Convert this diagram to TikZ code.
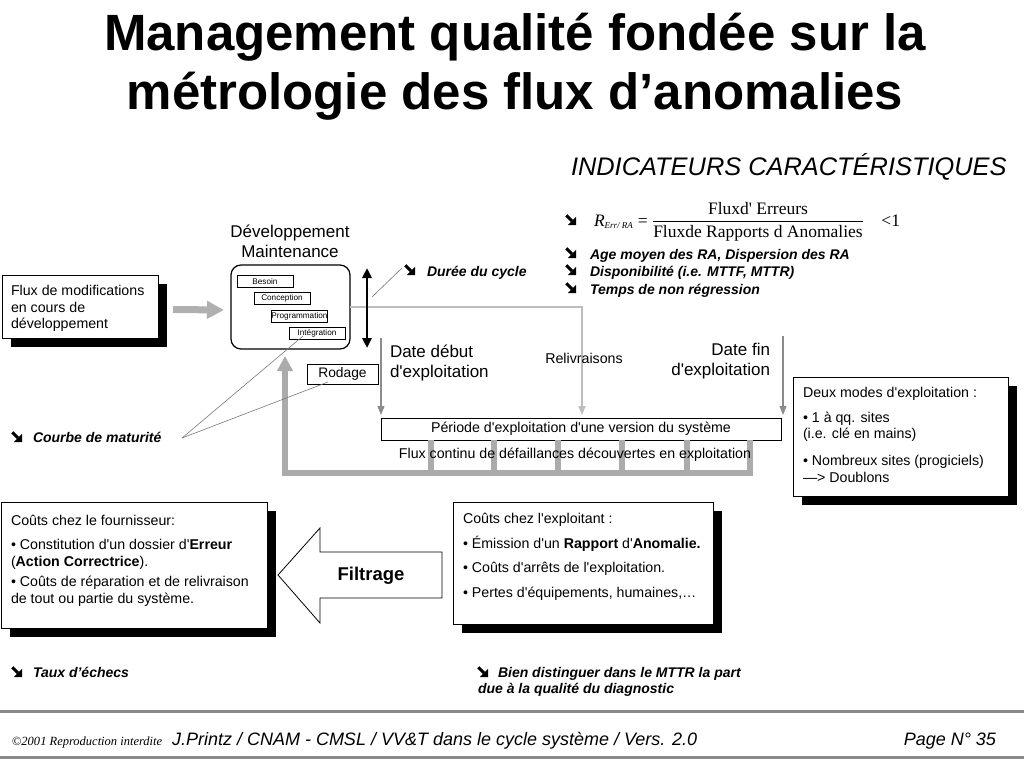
\documentclass[tikz,border=0pt]{standalone}
\usepackage{fontspec}
\setmainfont{Liberation Sans}[Ligatures=TeXOff]
\newfontfamily\seriffam{Liberation Serif}[Ligatures=TeXOff]
\usetikzlibrary{arrows.meta,shadows}
\definecolor{bargray}{HTML}{ABABAB}
\definecolor{arrgray}{HTML}{B0B0B0}
\definecolor{dategray}{HTML}{8C8C8C}
\definecolor{relgray}{HTML}{BDBDBD}
\definecolor{linegray}{HTML}{7A7A7A}
\definecolor{rulegray}{HTML}{8A8A8A}
\newcommand\fs[2]{\fontsize{#1}{#2}\selectfont}
\begin{document}
\begin{tikzpicture}[x=1pt,y=-1pt,
  every node/.style={inner sep=0pt, outer sep=0pt},
  body/.style={font=\fs{14.2}{17}},
  bul/.style={font=\fs{14}{16}\bfseries\itshape},
  big/.style={font=\fs{17}{20}},
  shbox/.style={draw, line width=1pt, fill=white,
    drop shadow={shadow xshift=9pt, shadow yshift=-9pt, fill=black, opacity=1}},
  small/.style={draw, line width=0.8pt, minimum width=56pt, minimum height=12pt, font=\fs{8.2}{9}},
  thickbar/.style={bargray, line width=5.5pt},
  datearrow/.style={dategray, line width=1.3pt, -{Triangle[length=9pt,width=7pt]}, shorten >=3pt},
  thin/.style={linegray, line width=0.6pt},
  barr/.pic={\draw[line width=3pt] (0.3,0.3) -- (6,6); \fill (10,10) -- (10,1.8) -- (1.8,10) -- cycle;}
]
\fill[white] (0,0) rectangle (1024,768);
\useasboundingbox (0,0) rectangle (1024,768);

% title
\node[anchor=base, font=\fs{51}{58}\bfseries] (t1) at (515,51) {Management qualité fondée sur la};
\node[anchor=base, font=\fs{51}{58}\bfseries] (t2) at (515,109) {métrologie des flux d’anomalies};

% indicators
\node[anchor=base west, font=\fs{25.4}{28}\itshape] (ind) at (571,175) {INDICATEURS CARACTÉRISTIQUES};
\pic (b0) at (566,215) {barr};
\node[anchor=base west] (form) at (594,226) {\seriffam\fs{17.5}{20}$\displaystyle \mbox{\itshape R}_{\mbox{\seriffam\itshape\fs{9}{10}Err/ RA}}\mbox{ = }\frac{\mbox{Fluxd' Erreurs}}{\mbox{Fluxde Rapports d Anomalies}}\mbox{\quad <1}$};
\pic (b1) at (566,248) {barr};
\node[anchor=base west, bul] (i1) at (590,259) {Age moyen des RA, Dispersion des RA};
\pic (b2) at (566,265) {barr};
\node[anchor=base west, bul] (i2) at (590,276) {Disponibilité (i.e. MTTF, MTTR)};
\pic (b3) at (566,283) {barr};
\node[anchor=base west, bul] (i3) at (590,294) {Temps de non régression};

% development box
\node[big, align=center] (devlbl) at (290,241) {Développement\\Maintenance};
\node[draw, line width=1.2pt, rounded corners=10pt, minimum width=119pt, minimum height=84pt] (dev) at (290.5,307) {};
\node[small] (bes) at (265,281.5) {Besoin};
\node[small] (con) at (282,298.5) {Conception};
\node[small] (prog) at (299.5,316) {Programmation};
\node[small] (integ) at (317,333) {Intégration};

% flux de modifications
\node[shbox, minimum width=156pt, minimum height=63pt] (flux) at (80,306.5) {};
\node[anchor=base west, body] (fx1) at (11,295) {Flux de modifications};
\node[anchor=base west, body] (fx2) at (11,312) {en cours de};
\node[anchor=base west, body] (fx3) at (11,328) {développement};
\draw[arrgray, line width=7pt, -{Triangle[length=17pt,width=17pt]}] ([xshift=15pt,yshift=-3pt]flux.east) -- ([xshift=-7pt,yshift=-3pt]dev.west);

% relivraison line
\coordinate (rl) at (582,307);
\draw[relgray, line width=1.8pt, -{Triangle[length=9pt,width=7pt]}, shorten >=3pt] (dev.east) -- (rl) -- (rl |- 0,418);

% cycle duration double arrow
\coordinate (dct) at (367,268);
\coordinate (dcb) at (367,348);
\draw[line width=2.6pt, {Triangle[length=10pt,width=9pt]}-{Triangle[length=10pt,width=9pt]}] (dct) -- (dcb);
\coordinate (dl1) at (372,297);
\coordinate (dl2) at (402,268);
\draw[thin] (dl1) -- (dl2);
\pic (bd) at (405,265) {barr};
\node[anchor=base west, bul] (duree) at (427,276) {Durée du cycle};

% rodage
\node[draw, line width=1pt, minimum width=71pt, minimum height=20pt, font=\fs{13.8}{16}] (rod) at (342.5,374) {Rodage};

% period
\node[draw, line width=1pt, minimum width=400pt, minimum height=22pt, body, fill=white] (per) at (581,429) {Période d'exploitation d'une version du système};
\coordinate (dd) at (381,338);
\draw[datearrow] (dd) -- (dd |- per.north);
\coordinate (df) at (783,336);
\draw[datearrow] (df) -- (df |- per.north);
\node[big, anchor=west, align=left] (ddeb) at (390,363) {Date début\\d'exploitation};
\node[big, anchor=east, align=right] (dfin) at (770,361) {Date fin\\d'exploitation};
\node[body] (reliv) at (584,358) {Relivraisons};

% feedback bars
\coordinate (bl) at (285,473);
\coordinate (br) at (750,473);
\foreach \xx [count=\i] in {431,494,558,622,687}{
  \coordinate (v\i) at (\xx,473);
  \draw[thickbar] (v\i |- per.south) -- (v\i);
}
\draw[thickbar, line join=miter, -{Triangle[length=15pt,width=15pt]}, shorten >=7pt] (br |- per.south) -- (br) -- (bl) -- (bl |- dev.south);
\node[body] (fluxc) at (575,455) {Flux continu de défaillances découvertes en exploitation};

% courbe de maturite
\coordinate (cm) at (182,438);
\draw[thin] (cm) -- ([xshift=14pt,yshift=3pt]integ.south west);
\draw[thin] (cm) -- ([xshift=21pt,yshift=2pt]rod.south west);
\pic (bc) at (12,432) {barr};
\node[anchor=base west, bul] (courbe) at (33,442) {Courbe de maturité};

% deux modes
\node[shbox, minimum width=215pt, minimum height=119pt] (modes) at (900.5,436.5) {};
\node[anchor=base west, body] (m1) at (803,397) {Deux modes d'exploitation :};
\node[anchor=base west, body] (m2) at (803,422) {• 1 à qq. sites};
\node[anchor=base west, body] (m3) at (803,438) {(i.e. clé en mains)};
\node[anchor=base west, body] (m4) at (803,465) {• Nombreux sites (progiciels)};
\node[anchor=base west, body] (m5) at (803,482) {—> Doublons};

% fournisseur
\node[shbox, minimum width=266pt, minimum height=126pt] (four) at (134,565) {};
\node[anchor=base west, body] (f1) at (11,525) {Coûts chez le fournisseur:};
\node[anchor=base west, body] (f2) at (11,549) {• Constitution d'un dossier d'\textbf{Erreur}};
\node[anchor=base west, body] (f3) at (11,566) {(\textbf{Action Correctrice}).};
\node[anchor=base west, body] (f4) at (11,586) {• Coûts de réparation et de relivraison};
\node[anchor=base west, body] (f5) at (11,603) {de tout ou partie du système.};

% exploitant
\node[shbox, minimum width=260pt, minimum height=122pt] (expl) at (583,563) {};
\node[anchor=base west, body] (e1) at (463,523) {Coûts chez l'exploitant :};
\node[anchor=base west, body] (e2) at (463,548) {• Émission d'un \textbf{Rapport} d'\textbf{Anomalie.}};
\node[anchor=base west, body] (e3) at (463,572) {• Coûts d'arrêts de l'exploitation.};
\node[anchor=base west, body] (e4) at (463,597) {• Pertes d'équipements, humaines,…};

% filtrage arrow
\draw[fill=white, line width=0.8pt, line join=miter] (278,575) -- (320,528) -- (320,552) -- (442,552) -- (442,598) -- (320,598) -- (320,623) -- cycle;
\node[font=\fs{18.5}{20}\bfseries] (filt) at (371,576) {Filtrage};

% bottom notes
\pic (bt) at (12,667) {barr};
\node[anchor=base west, bul] (taux) at (33,677) {Taux d’échecs};
\pic (bb) at (478,667) {barr};
\node[anchor=base west, bul] (bien1) at (498,677) {Bien distinguer dans le MTTR la part};
\node[anchor=base west, bul] (bien2) at (478,693) {due à la qualité du diagnostic};

% footer
\draw[rulegray, line width=3pt] (0,711) -- (1024,711);
\draw[rulegray, line width=3pt] (0,757) -- (1024,757);
\node[anchor=base west, font=\seriffam\itshape\fs{12.5}{14}] (copy) at (12,745) {©2001 Reproduction interdite};
\node[anchor=base west, font=\itshape\fs{18}{20}] (foot) at (172,745) {J.Printz / CNAM - CMSL / VV\&T dans le cycle système / Vers. 2.0};
\node[anchor=base east, font=\itshape\fs{18}{20}] (page) at (996,745) {Page N° 35};
\end{tikzpicture}
\end{document}
